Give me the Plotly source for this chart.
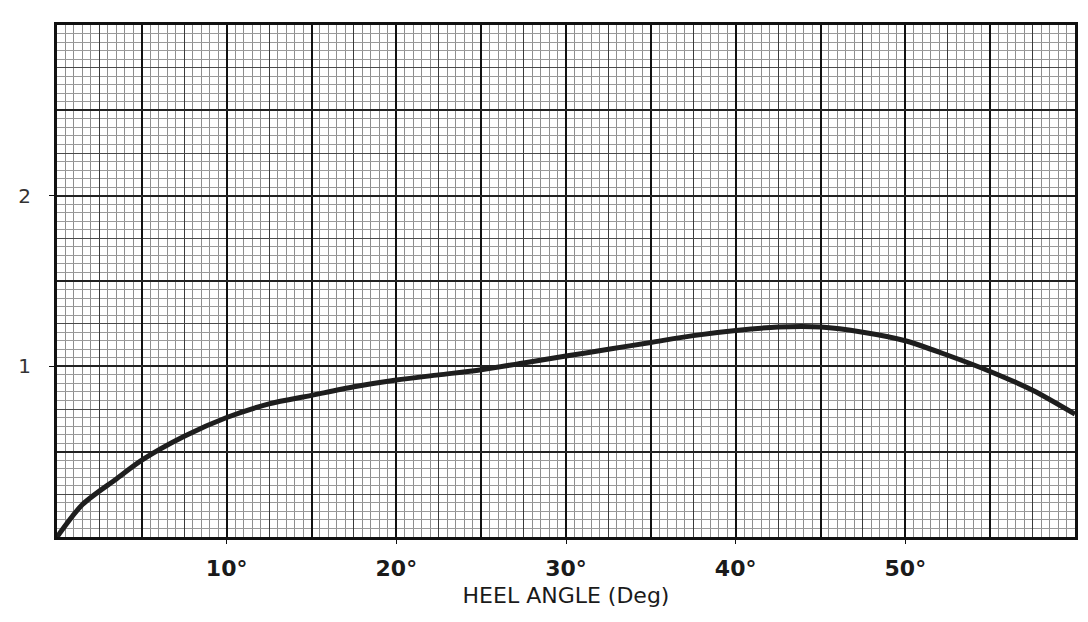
import plotly.graph_objects as go

# Heel angle (deg) and righting-arm values
heel_angle = [0, 1.5, 3.5, 5, 7.5, 10, 12.5, 15, 17.5, 20, 22.5, 25, 27.5, 30,
              32.5, 35, 37.5, 40, 42.5, 45, 47.5, 50, 52.5, 55, 57.5, 60]
righting_arm = [0, 0.19, 0.34, 0.45, 0.59, 0.70, 0.78, 0.83, 0.88, 0.92, 0.95,
                0.98, 1.02, 1.06, 1.10, 1.14, 1.18, 1.21, 1.23, 1.23, 1.20,
                1.15, 1.065, 0.97, 0.86, 0.72]

x_tick_vals = [10, 20, 30, 40, 50]
x_tick_text = ["<b>10°</b>", "<b>20°</b>", "<b>30°</b>", "<b>40°</b>", "<b>50°</b>"]
y_tick_vals = [1, 2]
y_tick_text = ["1", "2"]
x_title = "HEEL ANGLE (Deg)"

fig = go.Figure()

# invisible helper trace so that the overlay grid axes are drawn
fig.add_trace(go.Scatter(x=heel_angle, y=righting_arm, xaxis="x2", yaxis="y2",
                         mode="lines", line=dict(width=0), opacity=0,
                         hoverinfo="skip", showlegend=False))

fig.add_trace(go.Scatter(x=heel_angle, y=righting_arm, mode="lines",
                         line=dict(color="#1e1e1e", width=5, shape="spline",
                                   smoothing=0.8),
                         showlegend=False))

font_main = "DejaVu Sans, Arial, sans-serif"

# page body has an 8px margin, so the figure is sized/offset to compensate
fig.update_layout(
    width=1080, height=614,
    margin=dict(l=49, r=13, t=17, b=85),
    paper_bgcolor="white", plot_bgcolor="white",
    xaxis=dict(range=[0, 60], tickmode="array", tickvals=x_tick_vals,
               ticktext=x_tick_text, showgrid=True, gridcolor="#111",
               gridwidth=2, zeroline=False, automargin=False,
               showline=True, linecolor="#111", linewidth=3, mirror=True,
               ticks="outside", ticklen=4, tickcolor="#111",
               tickfont=dict(family=font_main, size=22, color="#1a1a1a"),
               ticklabelstandoff=6,
               title=dict(text=x_title, standoff=8,
                          font=dict(family=font_main, size=22, color="#1a1a1a")),
               minor=dict(dtick=0.5, showgrid=True, gridcolor="#8e8e8e",
                          gridwidth=1, ticks=""),
               layer="below traces"),
    yaxis=dict(range=[0, 3], tickmode="array", tickvals=y_tick_vals,
               ticktext=y_tick_text, showgrid=True, gridcolor="#222",
               gridwidth=1.5, zeroline=False, automargin=False,
               showline=True, linecolor="#111", linewidth=3, mirror=True,
               ticks="outside", ticklen=5, tickcolor="#111",
               tickfont=dict(family=font_main, size=20, color="#333"),
               ticklabelstandoff=14,
               minor=dict(dtick=0.05, showgrid=True, gridcolor="#9a9a9a",
                          gridwidth=1, ticks="")),
    xaxis2=dict(overlaying="x", matches="x", range=[0, 60], tickmode="linear",
                tick0=0, dtick=5, showgrid=True, gridcolor="#111", gridwidth=2,
                showticklabels=False, ticks="", zeroline=False, showline=False,
                minor=dict(dtick=2.5, showgrid=True, gridcolor="#3a3a3a",
                           gridwidth=1.2, ticks="")),
    yaxis2=dict(overlaying="y", matches="y", range=[0, 3], tickmode="linear",
                tick0=0, dtick=0.5, showgrid=True, gridcolor="#222",
                gridwidth=1.5, showticklabels=False, ticks="", zeroline=False,
                showline=False,
                minor=dict(dtick=0.25, showgrid=True, gridcolor="#4a4a4a",
                           gridwidth=1.2, ticks="")),
)

fig.write_html("out.html")
